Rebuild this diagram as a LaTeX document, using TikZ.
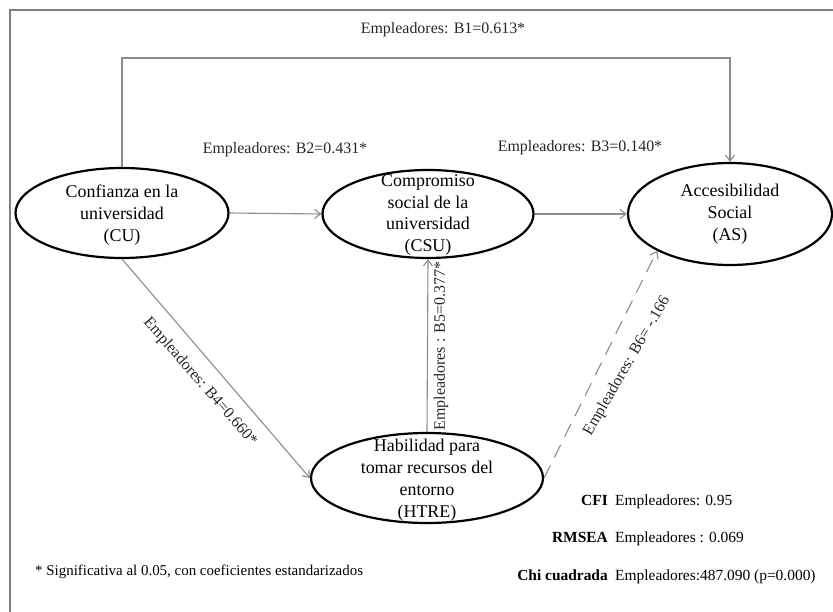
\documentclass[tikz,border=0pt]{standalone}
\usepackage{fontspec}
\setmainfont{Liberation Serif}
\usetikzlibrary{arrows.meta,shapes.geometric}
\begin{document}
\begin{tikzpicture}[x=1bp,y=-1bp,
  latent/.style={draw=black,line width=2.2bp,ellipse,inner sep=0pt},
  etext/.style={font=\fontsize{18}{22}\selectfont,align=center,inner sep=0pt},
  conn/.style={draw=black!45,line width=1.1bp,-{Straight Barb[length=6bp,width=9bp]}},
  coef/.style={font=\fontsize{16}{19}\selectfont,inner sep=0pt,text=black!85},
  statl/.style={font=\fontsize{15.5}{18}\selectfont\bfseries,anchor=base east,inner sep=0pt},
  statv/.style={font=\fontsize{15.5}{18}\selectfont,anchor=base west,inner sep=0pt}]
\useasboundingbox (0,0) rectangle (833,612);
\draw[black!50,line width=1.8bp] (10,612) -- (10,10) -- (833,10);

% latent variables
\node[latent,minimum width=213bp,minimum height=90bp] (CU) at (122,213) {};
\node[latent,minimum width=211bp,minimum height=88bp] (CSU) at (428,214) {};
\node[latent,minimum width=204bp,minimum height=102bp] (AS) at (730,214) {};
\node[latent,minimum width=232bp,minimum height=90bp] (HTRE) at (427,478) {};

\node[etext] (CUt) at (122,215) {Confianza en la\\universidad\\(CU)};
\node[etext] (CSUt) at (428,215) {Compromiso\\social de la\\universidad\\(CSU)};
\node[etext] (ASt) at (730,214) {Accesibilidad\\Social\\(AS)};
\node[etext] (HTREt) at (427,480) {Habilidad para\\tomar recursos del\\entorno\\(HTRE)};

% paths
\coordinate (b1l) at (122,58);
\coordinate (b1r) at (730,58);
\draw[conn] (CU.north) -- (b1l) -- (b1r) -- (AS.north);
\draw[conn] (CU.east) -- (CSU.west);
\draw[conn] (CSU.east) -- (AS.west);
\draw[conn] (CU.south) -- (HTRE.west);
\draw[conn] (HTRE.north) -- (CSU.south);
\draw[conn,dash pattern=on 14bp off 9bp] (HTRE.east) -- (AS.south west);

% coefficients
\node[coef] (l1) at (443,30) {Empleadores: B1=0.613*};
\node[coef] (l2) at (285,150) {Empleadores: B2=0.431*};
\node[coef] (l3) at (580,148) {Empleadores: B3=0.140*};
\node[coef,rotate=-49] (l4) at (200,382) {Empleadores: B4=0.660*};
\node[coef,rotate=90] (l5) at (441,346) {Empleadores : B5=0.377*};
\node[coef,rotate=60] (l6) at (627,366) {Empleadores: B6= -.166};

% fit statistics
\node[statl] (s1) at (608,505) {CFI};
\node[statv] (v1) at (615,505) {Empleadores: 0.95};
\node[statl] (s2) at (608,542) {RMSEA};
\node[statv] (v2) at (615,542) {Empleadores : 0.069};
\node[statl] (s3) at (608,580) {Chi cuadrada};
\node[statv] (v3) at (615,580) {Empleadores:487.090 (p=0.000)};

\node[font=\fontsize{15}{18}\selectfont,anchor=base west,inner sep=0pt] (note) at (35,575)
  {* Significativa al 0.05, con coeficientes estandarizados};
\end{tikzpicture}
\end{document}
